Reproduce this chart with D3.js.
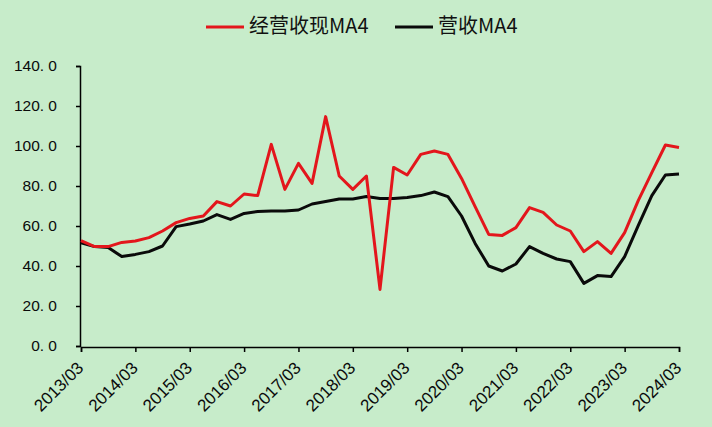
<!DOCTYPE html>
<html>
<head>
<meta charset="utf-8">
<script src="https://cdn.jsdelivr.net/npm/d3@7"></script>
<style>
  html, body { margin: 0; padding: 0; background: #c7ecca; }
  svg { display: block; }
</style>
</head>
<body>
<svg id="chart" width="712" height="427"></svg>
<script>
const quarters = [
  "2013/03","2013/06","2013/09","2013/12",
  "2014/03","2014/06","2014/09","2014/12",
  "2015/03","2015/06","2015/09","2015/12",
  "2016/03","2016/06","2016/09","2016/12",
  "2017/03","2017/06","2017/09","2017/12",
  "2018/03","2018/06","2018/09","2018/12",
  "2019/03","2019/06","2019/09","2019/12",
  "2020/03","2020/06","2020/09","2020/12",
  "2021/03","2021/06","2021/09","2021/12",
  "2022/03","2022/06","2022/09","2022/12",
  "2023/03","2023/06","2023/09","2023/12",
  "2024/03"
];
const cashMA4 = [
  52.7, 49.7, 49.7, 51.8, 52.5, 54.2, 57.5, 61.7, 63.8, 65.0, 72.2, 70.0, 76.0, 75.2, 100.8,
  78.3, 91.3, 81.3, 114.7, 85.0, 78.3, 85.0, 28.3, 89.3, 85.5, 95.8, 97.5, 95.8, 83.8, 69.7,
  55.8, 55.3, 59.2, 69.2, 66.8, 60.5, 57.5, 47.2, 52.2, 46.3, 56.7, 72.7, 86.7, 100.5, 99.3
];
const revMA4 = [
  51.6, 49.7, 49.2, 44.7, 45.8, 47.2, 50.0, 59.7, 61.0, 62.5, 65.7, 63.3, 66.3, 67.2, 67.5,
  67.5, 68.0, 71.0, 72.2, 73.5, 73.5, 74.7, 73.8, 73.8, 74.2, 75.2, 77.0, 74.7, 65.0, 51.3,
  40.0, 37.5, 41.0, 49.7, 46.3, 43.5, 42.2, 31.3, 35.2, 34.7, 44.7, 60.2, 75.2, 85.5, 86.0
];
const xTickLabels = ["2013/03","2014/03","2015/03","2016/03","2017/03","2018/03",
  "2019/03","2020/03","2021/03","2022/03","2023/03","2024/03"];
const yTicks = [0, 20, 40, 60, 80, 100, 120, 140];
const seriesNames = ["经营收现MA4", "营收MA4"];
const seriesColors = ["#e3161c", "#0a0a0a"];

const svg = d3.select("#chart");
const x = d3.scalePoint().domain(quarters).range([81, 679]);
const y = d3.scaleLinear().domain([0, 140]).range([346, 66]);

// Y axis
const yAxis = svg.append("g")
  .attr("transform", "translate(80,0)")
  .call(d3.axisLeft(y).tickValues(yTicks).tickSize(4).tickPadding(19)
    .tickFormat(d => d3.format(".1f")(d).replace(".", ". ")));
yAxis.select(".domain").attr("stroke", "#000").attr("stroke-width", 1.5);
yAxis.selectAll(".tick line").attr("stroke", "#000").attr("stroke-width", 1.5);
yAxis.selectAll("text").attr("fill", "#0a0a0a")
  .style("font-family", "'Liberation Sans', Arial, sans-serif").style("font-size", "15.5px");

// X axis
const xAxis = svg.append("g")
  .attr("transform", "translate(0,347)")
  .call(d3.axisBottom(x).tickValues(xTickLabels).tickSizeOuter(0).tickSize(5));
xAxis.select(".domain").attr("stroke", "#000").attr("stroke-width", 1.5);
xAxis.selectAll(".tick line").attr("stroke", "#000").attr("stroke-width", 1.5);
xAxis.selectAll("text")
  .attr("fill", "#0a0a0a")
  .style("font-family", "'Liberation Sans', Arial, sans-serif").style("font-size", "17px")
  .attr("text-anchor", "end")
  .attr("dy", 0)
  .attr("y", 0)
  .attr("transform", "translate(3,22) rotate(-45)");

// Lines
const line = d3.line().x((d, i) => x(quarters[i])).y(d => y(d));
svg.append("path").datum(revMA4)
  .attr("fill", "none").attr("stroke", seriesColors[1]).attr("stroke-width", 3)
  .attr("stroke-linejoin", "round").attr("d", line);
svg.append("path").datum(cashMA4)
  .attr("fill", "none").attr("stroke", seriesColors[0]).attr("stroke-width", 3)
  .attr("stroke-linejoin", "round").attr("d", line);

// Legend
const legendItems = [
  { name: seriesNames[0], color: seriesColors[0], x0: 206 },
  { name: seriesNames[1], color: seriesColors[1], x0: 395 }
];
const lg = svg.append("g");
legendItems.forEach(it => {
  lg.append("line").attr("x1", it.x0).attr("x2", it.x0 + 38)
    .attr("y1", 27).attr("y2", 27)
    .attr("stroke", it.color).attr("stroke-width", 3);
  lg.append("text").attr("x", it.x0 + 43).attr("y", 28)
    .attr("dominant-baseline", "middle")
    .style("font-family", "'Noto Sans CJK SC', sans-serif").style("font-size", "20px")
    .attr("fill", "#111")
    .text(it.name);
});
</script>
</body>
</html>
